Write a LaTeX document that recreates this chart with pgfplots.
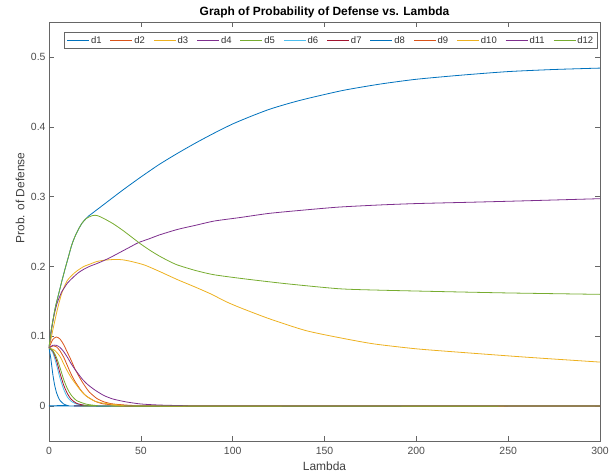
\documentclass[border=0pt]{standalone}
\usepackage{pgfplots}
\pgfplotsset{compat=1.18}
\usepackage{fontspec}
\setmainfont{Liberation Sans}
\definecolor{m1}{RGB}{0,114,189}
\definecolor{m2}{RGB}{217,83,25}
\definecolor{m3}{RGB}{237,177,32}
\definecolor{m4}{RGB}{126,47,142}
\definecolor{m5}{RGB}{119,172,48}
\definecolor{m6}{RGB}{77,190,238}
\definecolor{m7}{RGB}{162,20,47}
\begin{document}
\begin{tikzpicture}
\path[use as bounding box] (-49bp,-34bp) rectangle (561bp,441bp);
\begin{axis}[
  at={(0,0)}, anchor=south west,
  scale only axis, width=551bp, height=419bp,
  xmin=0, xmax=300, ymin=-0.05, ymax=0.55,
  xtick={0,50,100,150,200,250,300},
  ytick={0,0.1,0.2,0.3,0.4,0.5},
  tick align=inside, major tick length=5bp,
  axis line style={black!60, line width=0.5bp},
  every tick/.style={black!60, line width=0.5bp},
  /pgf/number format/assume math mode=true,
  yticklabel style={/pgf/number format/fixed, /pgf/number format/precision=1},
  xticklabel style={yshift=-3bp},
  tick label style={font=\fontsize{10.5}{12}\selectfont, text=black!70},
  title={\bfseries Graph of Probability of Defense vs. Lambda},
  title style={font=\fontsize{12}{14}\selectfont, at={(0.5,1)}, anchor=base, yshift=1bp},
  xlabel={Lambda},
  xlabel style={font=\fontsize{12}{14}\selectfont, text=black!75, at={(0.5,0)}, anchor=center, yshift=-25bp},
  ylabel={Prob. of Defense},
  ylabel style={font=\fontsize{12}{14}\selectfont, text=black!75, at={(0,0.58)}, anchor=center, yshift=29bp},
  legend columns=12,
  legend style={font=\fontsize{9.5}{11}\selectfont, draw, color=black!60, fill=white, line width=0.5bp,
    at={(1,1)}, anchor=north east, xshift=-3bp, yshift=-10bp,
    inner xsep=2bp, inner ysep=2.5bp, nodes={inner sep=1.5bp, text=black!80},
    /tikz/every even column/.append style={column sep=7bp}},
  legend image code/.code={\draw[#1, line width=0.8bp] (0bp,0bp) -- (22bp,0bp);},
  every axis plot/.append style={line width=0.8bp, no markers, smooth, tension=0.4},
]
% d1 (rising, blue)
\addplot[m1] coordinates {(0,0.0833) (1,0.105) (2.3,0.125) (3.5,0.142) (5,0.158) (7,0.179) (8.7,0.196) (10.5,0.213) (12.3,0.23) (14,0.242) (16,0.253) (18,0.262) (20,0.268) (21.5,0.272) (25,0.279) (30,0.289) (40,0.309) (50,0.328) (60,0.346) (70,0.362) (80,0.377) (90,0.391) (100,0.404) (110,0.415) (120,0.425) (130,0.433) (140,0.440) (160,0.452) (180,0.461) (200,0.468) (225,0.474) (250,0.479) (275,0.482) (300,0.484)};
% d2 (orange hump)
\addplot[m2] coordinates {(0,0.0833) (2,0.095) (4,0.099) (6,0.096) (8,0.088) (10,0.077) (12,0.066) (14,0.054) (16,0.044) (18,0.035) (20,0.027) (22,0.020) (26,0.011) (30,0.006) (35,0.003) (45,0.001) (60,0) (300,0)};
% d3 (rising, yellow)
\addplot[m3] coordinates {(0,0.0833) (1,0.095) (2,0.108) (3,0.12) (4,0.132) (5,0.143) (6,0.153) (7,0.162) (8.5,0.172) (10,0.18) (12,0.186) (14,0.191) (16,0.195) (19,0.2) (22,0.203) (26,0.207) (30.5,0.209) (36,0.210) (40,0.2095) (45,0.207) (52,0.202) (60,0.193) (70,0.181) (80,0.170) (88.6,0.160) (96,0.150) (104,0.141) (120,0.125) (140,0.108) (160,0.097) (177,0.089) (200,0.082) (224,0.077) (260,0.070) (300,0.063)};
% d4 (rising, purple)
\addplot[m4] coordinates {(0,0.0833) (1,0.103) (2,0.12) (3,0.133) (4.5,0.148) (6,0.158) (7,0.164) (8.5,0.17) (10,0.176) (13,0.184) (16,0.191) (19,0.196) (22,0.2) (25,0.203) (28.7,0.207) (32,0.211) (35,0.215) (40,0.222) (45,0.229) (48.6,0.234) (55,0.240) (60,0.245) (70,0.253) (80,0.259) (90,0.265) (104,0.27) (120,0.276) (140,0.281) (158,0.285) (180,0.288) (200,0.290) (231,0.292) (260,0.294) (300,0.297)};
% d5 (rising, green)
\addplot[m5] coordinates {(0,0.0833) (1,0.105) (2.3,0.125) (3.5,0.142) (5,0.158) (7,0.179) (8.7,0.196) (10.5,0.213) (12.3,0.23) (14,0.242) (16,0.253) (18,0.262) (20,0.268) (22,0.271) (24,0.273) (26,0.273) (28,0.271) (31,0.267) (35,0.261) (40,0.252) (45,0.242) (50,0.232) (55,0.223) (60,0.215) (65,0.208) (70,0.202) (80,0.194) (90,0.188) (107,0.182) (130,0.175) (158,0.168) (180,0.166) (213,0.164) (250,0.162) (300,0.160)};
% d6
\addplot[m6] coordinates {(0,0.0833) (2,0.077) (4,0.06) (6,0.04) (8,0.024) (10,0.013) (12,0.007) (15,0.003) (20,0.001) (30,0) (300,0)};
% d7
\addplot[m7] coordinates {(0,0.0833) (2,0.079) (4,0.066) (6,0.047) (8,0.03) (10,0.018) (12,0.01) (15,0.004) (20,0.001) (30,0) (300,0)};
% d8 (fast decay, blue)
\addplot[m1] coordinates {(0,0.0833) (1,0.068) (2,0.047) (3,0.031) (4,0.02) (5,0.013) (6,0.008) (8,0.003) (10,0.001) (14,0) (300,0)};
% d9
\addplot[m2] coordinates {(0,0.0833) (2,0.086) (4,0.085) (6,0.079) (8,0.07) (10,0.058) (12,0.046) (14,0.036) (17,0.024) (20,0.015) (25,0.007) (30,0.003) (40,0.001) (55,0) (300,0)};
% d10
\addplot[m3] coordinates {(0,0.0833) (3,0.08) (6,0.071) (9,0.055) (12,0.041) (15,0.03) (18,0.02) (21,0.013) (25,0.007) (30,0.004) (40,0.001) (50,0) (300,0)};
% d11
\addplot[m4] coordinates {(0,0.0833) (2,0.087) (4,0.087) (6,0.084) (8,0.078) (10,0.07) (12,0.061) (14,0.053) (16,0.046) (18,0.039) (21,0.031) (25,0.023) (30,0.015) (35,0.01) (42,0.006) (50,0.003) (60,0.0015) (75,0.0005) (90,0) (300,0)};
% d12
\addplot[m5] coordinates {(0,0.0833) (2,0.08) (4,0.07) (6,0.055) (8,0.038) (10,0.025) (12,0.016) (15,0.008) (20,0.003) (25,0.001) (35,0) (300,0)};
\legend{d1,d2,d3,d4,d5,d6,d7,d8,d9,d10,d11,d12}
\end{axis}
\end{tikzpicture}
\end{document}
